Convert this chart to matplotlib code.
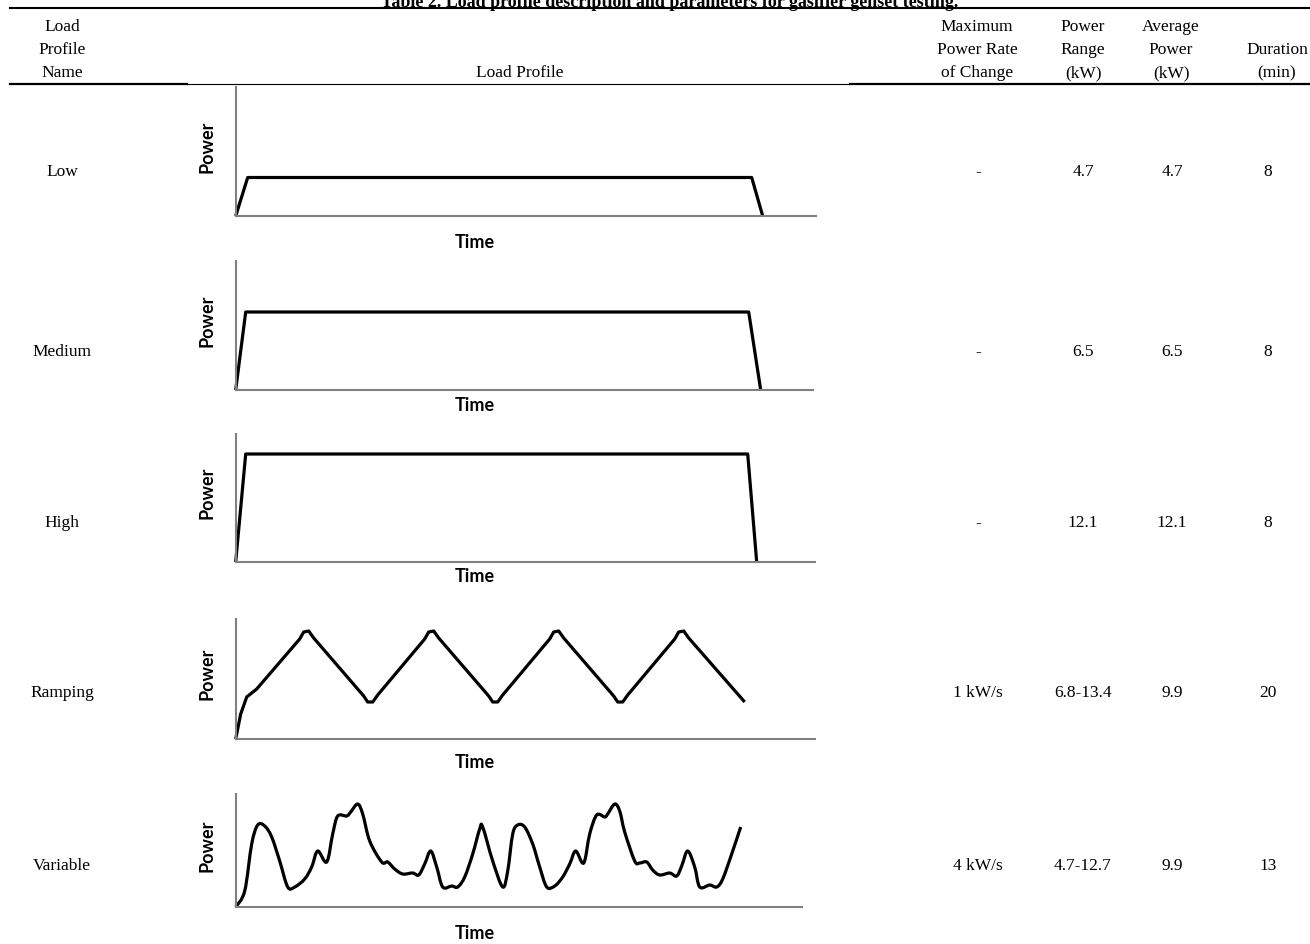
import matplotlib
matplotlib.use('Agg')
import matplotlib.pyplot as plt
import numpy as np
from matplotlib.lines import Line2D
from matplotlib.path import Path
from matplotlib.patches import PathPatch

# Table contents
profile_names = ['Low', 'Medium', 'High', 'Ramping', 'Variable']
max_rate = ['-', '-', '-', '1 kW/s', '4 kW/s']
power_range = ['4.7', '6.5', '12.1', '6.8-13.4', '4.7-12.7']
avg_power = ['4.7', '6.5', '12.1', '9.9', '9.9']
duration = ['8', '8', '8', '20', '13']

# Schematic load profiles (arbitrary time / power units)
low_t = [0, 12, 516, 527]
low_p = [0, 38.5, 38.5, 0]

medium_t = [0, 10, 513, 525]
medium_p = [0, 78, 78, 0]

high_t = [0, 10, 512, 521]
high_p = [0, 108, 108, 0]

ramp_t = [0, 5, 11, 21, 64, 68, 73, 78, 128, 132, 137, 142,
          189, 193, 198, 203, 253, 257, 262, 267,
          314, 318, 323, 328, 378, 382, 387, 392,
          439, 443, 448, 453, 509]
ramp_p = [0, 25, 42, 50, 100, 107, 108, 101, 43, 37, 37, 44,
          100, 107, 108, 101, 43, 37, 37, 44,
          100, 107, 108, 101, 43, 37, 37, 44,
          100, 107, 108, 101, 37]

var_t = [0, 9, 16, 22, 29, 36, 44, 52, 59, 69, 76, 82, 91, 97, 102, 111, 115,
         122, 127, 134, 146, 152, 159, 167, 177, 183, 189, 195, 201, 207, 216,
         222, 229, 237, 244, 247, 257, 267, 272, 277, 282, 289, 297, 304, 311,
         319, 327, 334, 340, 348, 354, 361, 369, 372, 379, 384, 389, 399, 404,
         411, 417, 424, 434, 441, 446, 452, 459, 464, 474, 481, 487, 496, 505]
var_p = [0, 16, 63, 82, 81, 70, 46, 20, 20, 28, 40, 56, 45, 73, 91, 91, 95,
         103, 93, 66, 45, 45, 38, 33, 34, 32, 43, 56, 40, 20, 21,
         20, 30, 53, 78, 80, 46, 20, 36, 73, 82, 80, 63, 40, 20,
         21, 30, 43, 56, 44, 73, 92, 90, 93, 103, 96, 75, 46, 44,
         45, 37, 32, 34, 31, 41, 56, 40, 20, 22, 20, 28, 53, 80]

profiles = [(low_t, low_p, False), (medium_t, medium_p, False), (high_t, high_p, False),
            (ramp_t, ramp_p, False), (var_t, var_p, True)]

W, H = 1310, 945
fig = plt.figure(figsize=(W / 100, H / 100), dpi=100)
fig.patch.set_facecolor('white')


def fx(x):
    return x / W


def fy(y):
    return 1 - y / H


def smooth_path(t, p):
    # Catmull-Rom through the read points, drawn as cubic Bezier segments
    pts = np.column_stack([t, p]).astype(float)
    verts = [pts[0]]
    codes = [Path.MOVETO]
    n = len(pts)
    for i in range(n - 1):
        p0 = pts[max(i - 1, 0)]
        p1 = pts[i]
        p2 = pts[i + 1]
        p3 = pts[min(i + 2, n - 1)]
        verts += [p1 + (p2 - p0) / 6, p2 - (p3 - p1) / 6, p2]
        codes += [Path.CURVE4] * 3
    return Path(verts, codes)


serif = 'Liberation Serif'
fs = 12.5

# title (top half is cut off in the source)
fig.text(fx(670), fy(7), 'Table 2. Load profile description and parameters for gasifier genset testing.',
         ha='center', va='baseline', family=serif, weight='bold', fontsize=13)

# rules
fig.add_artist(Line2D([fx(10), fx(1310)], [fy(8.5), fy(8.5)], color='black', lw=1.5))
fig.add_artist(Line2D([fx(10), fx(187)], [fy(84.5), fy(84.5)], color='black', lw=1.6))
fig.add_artist(Line2D([fx(187), fx(850)], [fy(84.5), fy(84.5)], color='black', lw=0.8))
fig.add_artist(Line2D([fx(850), fx(1310)], [fy(84.5), fy(84.5)], color='black', lw=1.6))

# header
base = [31, 54, 77]
headers = [
    (62, ['Load', 'Profile', 'Name']),
    (520, ['', '', 'Load Profile']),
    (977, ['Maximum', 'Power Rate', 'of Change']),
    (1083, ['Power', 'Range', '(kW)']),
    (1171, ['Average', 'Power', '(kW)']),
    (1277, ['', 'Duration', '(min)']),
]
for x, lines in headers:
    for y, s in zip(base, lines):
        if s:
            fig.text(fx(x), fy(y), s, ha='center', va='baseline', family=serif, fontsize=fs)

# rows
row_y = [172, 352, 523, 693, 866]
col_x = [978, 1083, 1172, 1268]
for i, y in enumerate(row_y):
    fig.text(fx(62), fy(y), profile_names[i], ha='center', va='center', family=serif, fontsize=fs)
    vals = [max_rate[i], power_range[i], avg_power[i], duration[i]]
    for x, v in zip(col_x, vals):
        fig.text(fx(x), fy(y), v, ha='center', va='center', family=serif, fontsize=fs)

# mini profile plots: (axis left, axis right, axis top, baseline, time label y)
boxes = [
    (235.7, 816, 88, 217, 243),
    (235.7, 813, 262, 391, 406),
    (235.7, 815, 435, 563, 577),
    (235.7, 815, 620, 740, 763),
    (235.7, 802, 795, 908, 934),
]
axis_col = '#808080'
for (x0, x1, yt, yb, ty), (t, p, smooth) in zip(boxes, profiles):
    ax = fig.add_axes([fx(x0), fy(yb), (x1 - x0) / W, (yb - yt) / H])
    if smooth:
        ax.add_patch(PathPatch(smooth_path(t, p), facecolor='none', edgecolor='black',
                               lw=2.3, clip_on=False, joinstyle='round', capstyle='butt'))
    else:
        ax.plot(t, p, color='black', lw=2.3, clip_on=False,
                solid_joinstyle='round', solid_capstyle='butt')
    ax.set_xlim(0, x1 - x0)
    ax.set_ylim(0, yb - yt)
    for s in ['top', 'right']:
        ax.spines[s].set_visible(False)
    for s in ['left', 'bottom']:
        ax.spines[s].set_color(axis_col)
        ax.spines[s].set_linewidth(1.5)
    ax.set_xticks([])
    ax.set_yticks([])
    ax.patch.set_alpha(0)
    fig.text(fx(475), fy(ty), 'Time', ha='center', va='center',
             family='Lato', weight='bold', fontsize=13)
    fig.text(fx(207), fy((yt + yb) / 2 - 6), 'Power', ha='center', va='center', rotation=90,
             family='Lato', weight='bold', fontsize=13)

fig.savefig('out.png', dpi=100, facecolor='white')
